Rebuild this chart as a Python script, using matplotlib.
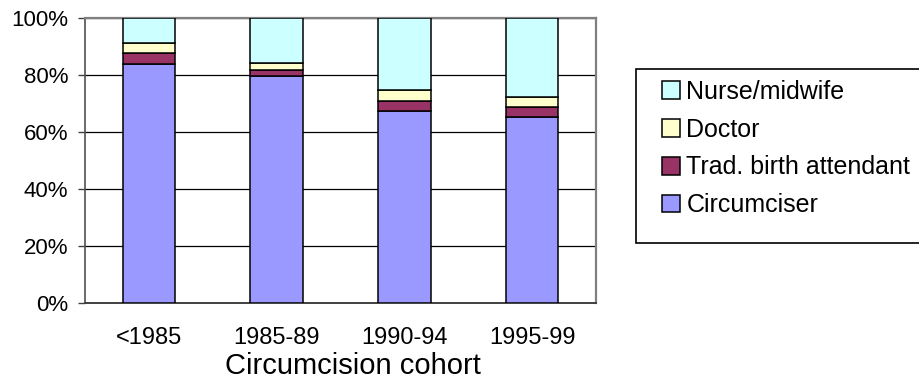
import numpy as np
import matplotlib
matplotlib.use('Agg')
import matplotlib.pyplot as plt
from matplotlib.patches import Rectangle
from matplotlib.ticker import PercentFormatter

plt.rcParams['font.family'] = ['Liberation Sans', 'DejaVu Sans']

cohorts = ['<1985', '1985-89', '1990-94', '1995-99']
circumciser = [83.8, 79.6, 67.4, 65.3]
trad_birth = [3.9, 2.1, 3.7, 3.6]
doctor = [3.6, 2.6, 3.6, 3.6]
nurse = [8.7, 15.7, 25.3, 27.5]

series = [
    ('Circumciser', circumciser, '#9999FF'),
    ('Trad. birth attendant', trad_birth, '#993366'),
    ('Doctor', doctor, '#FFFFCC'),
    ('Nurse/midwife', nurse, '#CCFFFF'),
]

fig = plt.figure(figsize=(9.19, 3.85), dpi=100)
W, H = 919, 385
ax = fig.add_axes([85 / W, 1 - 303 / H, (596 - 85) / W, (303 - 18.3) / H])

x = np.arange(len(cohorts))
bottom = np.zeros(len(cohorts))
handles = []
for name, vals, col in series:
    b = ax.bar(x, vals, 0.41, bottom=bottom, color=col, edgecolor='black',
               linewidth=1.1, label=name, zorder=3)
    bottom += np.array(vals)
    handles.append(b)

ax.set_xlim(-0.5, len(cohorts) - 0.5)
ax.set_ylim(0, 100)
ax.set_yticks(np.arange(0, 101, 20))
ax.yaxis.set_major_formatter(PercentFormatter(decimals=0))
ax.yaxis.grid(True, color='black', linewidth=0.9, zorder=0)
ax.set_xticks(x)
ax.set_xticklabels(cohorts, fontsize=17)
ax.tick_params(axis='x', length=0, pad=17)
ax.tick_params(axis='y', length=5, width=1, color='#404040', pad=7, labelsize=16, direction='out')
ax.set_xlabel('Circumcision cohort', fontsize=21)
ax.xaxis.set_label_coords((353 - 85) / (596 - 85), -0.172)

for s in ['top', 'right']:
    ax.spines[s].set_color('#808080')
    ax.spines[s].set_linewidth(1.6)
ax.spines['left'].set_color('#505050')
ax.spines['left'].set_linewidth(1.2)
ax.spines['bottom'].set_color('#404040')
ax.spines['bottom'].set_linewidth(1.4)

# legend box runs past the right edge of the figure
fig.patches.append(Rectangle((636 / W, 1 - 243 / H), 300 / W, (243 - 69) / H,
                             transform=fig.transFigure, facecolor='white',
                             edgecolor='black', linewidth=1.2, zorder=1))
leg = fig.legend(handles[::-1], [s[0] for s in series][::-1],
                 loc='upper left', bbox_to_anchor=(662 / W, 1 - 80 / H),
                 frameon=False, fontsize=18, handlelength=0.72, handleheight=0.72,
                 handletextpad=0.25, labelspacing=0.55, borderpad=0, borderaxespad=0)

fig.savefig('out.png', dpi=100)
